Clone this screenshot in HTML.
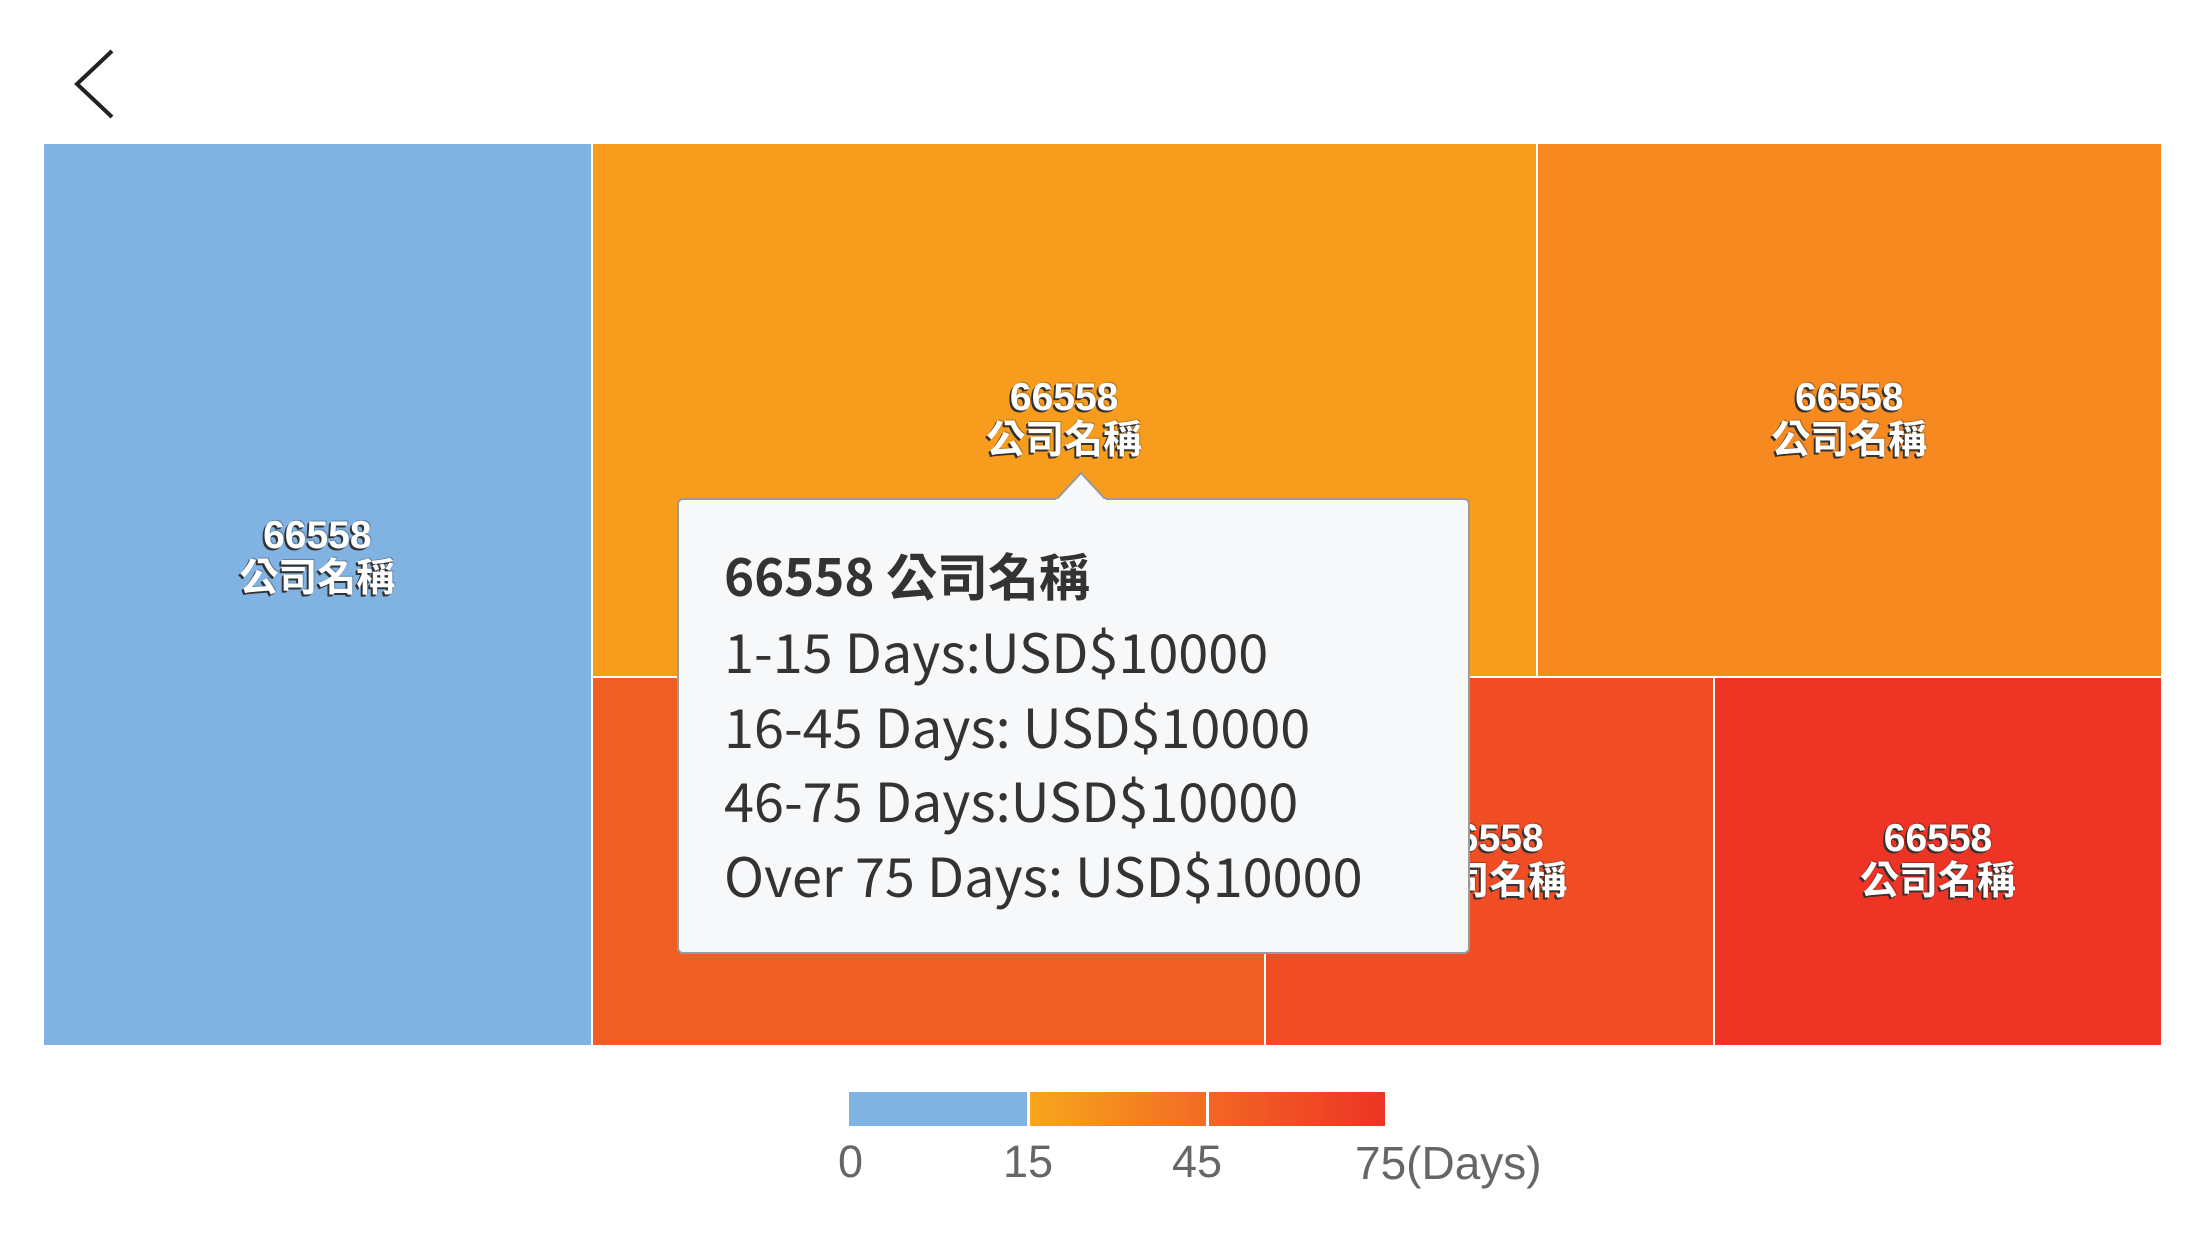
<!DOCTYPE html>
<html><head><meta charset="utf-8">
<style>
html,body{margin:0;padding:0;background:#fff;}
body{width:2208px;height:1242px;position:relative;overflow:hidden;font-family:"Liberation Sans","Noto Sans CJK TC",sans-serif;}
.cell{position:absolute;box-sizing:border-box;}
.lbl{position:absolute;left:0;right:0;text-align:center;color:#fff;font-weight:bold;font-size:39px;line-height:43px;text-shadow:-2px 2px 0 #333,-1px 1px 0 #333,1px -1px 0 rgba(0,0,0,.25);}
#tip{position:absolute;left:677px;top:498px;width:793px;height:456px;box-sizing:border-box;background:#f7f8fa;border:2px solid #9a9a9a;border-radius:6px;font-family:"Noto Sans CJK TC","Liberation Sans",sans-serif;color:#333;}
#tip .t{position:absolute;left:45px;white-space:nowrap;font-size:54px;line-height:60px;}
.leg{position:absolute;font-size:45px;color:#666;top:1136px;}
</style></head><body>
<svg style="position:absolute;left:70px;top:48px" width="50" height="72" viewBox="0 0 50 72"><polyline points="42,3 7,36 42,69" fill="none" stroke="#222" stroke-width="4"/></svg>
<div id="chart"></div>
<div id="tip">
<svg style="position:absolute;left:377px;top:-29px" width="50" height="30"><polygon points="0,29 25,2 50,29" fill="#f7f8fa" stroke="#9a9a9a" stroke-width="2"/><rect x="0" y="28" width="50" height="4" fill="#f7f8fa"/></svg>
<div class="t" style="top:44px;font-weight:bold;font-size:51px">66558 公司名稱</div>
<div class="t" style="top:120px">1-15 Days:USD$10000</div>
<div class="t" style="top:195px">16-45 Days: USD$10000</div>
<div class="t" style="top:269px">46-75 Days:USD$10000</div>
<div class="t" style="top:344px">Over 75 Days: USD$10000</div>
</div>
<div style="position:absolute;left:849px;top:1092px;width:178px;height:34px;background:#80b3e2"></div>
<div style="position:absolute;left:1030px;top:1092px;width:176px;height:34px;background:linear-gradient(90deg,#f9a61c,#f26b24)"></div>
<div style="position:absolute;left:1209px;top:1092px;width:176px;height:34px;background:linear-gradient(90deg,#f26624,#ee3424)"></div>
<div class="leg" style="left:838px">0</div>
<div class="leg" style="left:1003px">15</div>
<div class="leg" style="left:1172px">45</div>
<div class="leg" style="left:1355px;font-size:46px">75(Days)</div>
<script>
const codes = ["66558","66558","66558","66558","66558","66558"];
const names = ["公司名稱","公司名稱","公司名稱","公司名稱","公司名稱","公司名稱"];
const amounts = [100, 102, 67.5, 50.5, 33.7, 33.6];
const days = [10, 20, 30, 50, 60, 75];
const X0=44, Y0=144, W=2127-10, H=901;
function hex(c){return [parseInt(c.slice(1,3),16),parseInt(c.slice(3,5),16),parseInt(c.slice(5,7),16)];}
function mix(a,b,t){const A=hex(a),B=hex(b);return 'rgb('+A.map((v,i)=>Math.round(v+(B[i]-v)*t)).join(',')+')';}
function color(d){
  if(d<15) return '#80b3e2';
  if(d<45) return mix('#f9a61c','#f26b24',(d-15)/30);
  return mix('#f26624','#ee3424',Math.min(1,(d-45)/30));
}
const sum=amounts.reduce((a,b)=>a+b,0);
const rects=[];
const w1=W*amounts[0]/sum;
rects.push([X0,Y0,w1,H]);
const rest=sum-amounts[0], rw=W-w1;
const topSum=amounts[1]+amounts[2], th=H*topSum/rest;
let x=X0+w1;
for(let i=1;i<=2;i++){const w=rw*amounts[i]/topSum;rects.push([x,Y0,w,th]);x+=w;}
const botSum=amounts[3]+amounts[4]+amounts[5];x=X0+w1;
for(let i=3;i<=5;i++){const w=rw*amounts[i]/botSum;rects.push([x,Y0+th,w,H-th]);x+=w;}
const chart=document.getElementById('chart');
rects.forEach((r,i)=>{
  const el=document.createElement('div');
  
  
  el.className='cell';
  el.style.cssText=`left:${r[0]}px;top:${r[1]}px;width:${r[2]}px;height:${r[3]}px;background:${color(days[i])};border-left:${i?2:0}px solid #fff;border-top:${r[1]>Y0?2:0}px solid #fff;`;
  const l=document.createElement('div');
  
  
  l.className='lbl';
  l.style.top=(r[3]/2-(i===0?81:(i>=3?45:34)))+'px';
  l.innerHTML=codes[i]+'<br>'+names[i];
  el.appendChild(l);
  chart.appendChild(el);
});
</script>
</body></html>
